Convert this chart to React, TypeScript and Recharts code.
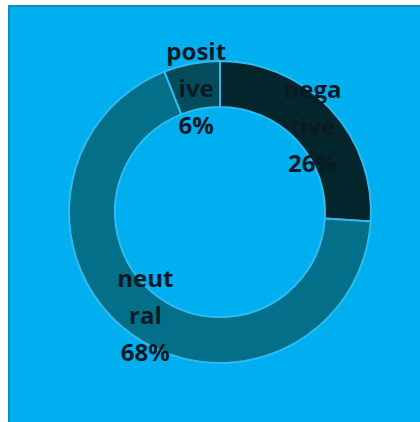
import { PieChart, Pie, Cell } from "recharts";

// Sentiment split, in percent
const names = ["negative", "neutral", "positive"];
const values = [26, 68, 6];
const labelLines = [
  ["nega", "tive"],
  ["neut", "ral"],
  ["posit", "ive"],
];
const colors = ["#03262C", "#036F89", "#044C5C"];

const data = names.map((name, i) => ({ name, value: values[i] }));

const RAD = Math.PI / 180;

interface LabelProps {
  cx: number;
  cy: number;
  midAngle: number;
  innerRadius: number;
  outerRadius: number;
  index: number;
  value: number;
}

function SliceLabel({ cx, cy, midAngle, innerRadius, outerRadius, index, value }: LabelProps) {
  const r = (innerRadius + outerRadius) / 2 - 1;
  const x = cx + r * Math.cos(-midAngle * RAD);
  const y = cy + r * Math.sin(-midAngle * RAD);
  const lines = [...labelLines[index], value + "%"];
  const lh = 37;
  return (
    <text
      x={x}
      y={y}
      textAnchor="middle"
      fill="#0A1A24"
      fontFamily="'Open Sans', sans-serif"
      fontWeight={700}
      fontSize={24}
    >
      {lines.map((l, i) => (
        <tspan key={i} x={x} y={y + (i - 1) * lh} dominantBaseline="central">
          {l}
        </tspan>
      ))}
    </text>
  );
}

export default function App() {
  return (
    <div style={{ position: "fixed", left: 0, top: 0, width: 420, height: 422, background: "#fff" }}>
      <div
        style={{
          position: "absolute",
          left: 8,
          top: 5,
          right: 0,
          bottom: 0,
          background: "#00AFEF",
          borderLeft: "2px solid #0D8DBD",
          borderTop: "2px solid #0D8DBD",
        }}
      />
      <div style={{ position: "absolute", left: 0, top: 0 }}>
        <PieChart width={420} height={422} margin={{ top: 0, right: 0, bottom: 0, left: 0 }}>
          <Pie
            data={data}
            dataKey="value"
            nameKey="name"
            cx={220}
            cy={212}
            innerRadius={105}
            outerRadius={151}
            startAngle={90}
            endAngle={-270}
            stroke="#2FBBF0"
            strokeWidth={2}
            labelLine={false}
            label={SliceLabel as any}
            isAnimationActive={false}
          >
            {data.map((d, i) => (
              <Cell key={d.name} fill={colors[i]} />
            ))}
          </Pie>
        </PieChart>
      </div>
    </div>
  );
}
